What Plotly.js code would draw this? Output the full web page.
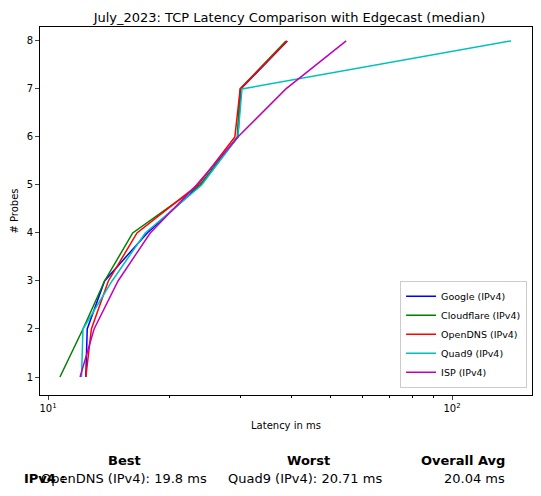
<!DOCTYPE html>
<html>
<head>
<meta charset="utf-8">
<script src="https://cdn.plot.ly/plotly-3.0.1.min.js"></script>
<style>body{margin:0;background:#fff}</style>
</head>
<body>
<div id="grafico" style="width:541px;height:496px"></div>
<script>
"use strict";

const probes = [1, 2, 3, 4, 5, 6, 7, 8];
const google = [12.4, 12.5, 13.8, 17.6, 23.8, 29.5, 30.0, 39.1];
const cloudflare = [10.7, 12.2, 13.8, 16.2, 23.8, 29.4, 29.9, 38.8];
const opendns = [12.4, 12.8, 14.1, 16.6, 23.5, 29.0, 29.9, 39.1];
const quad9 = [12.1, 12.2, 14.4, 17.4, 24.0, 29.5, 30.2, 140];
const isp = [12.0, 13.0, 14.9, 17.9, 23.3, 29.5, 38.8, 54.7];

const series = [
    { name: 'Google (IPv4)', x: google, color: '#0000ff' },
    { name: 'Cloudflare (IPv4)', x: cloudflare, color: '#008000' },
    { name: 'OpenDNS (IPv4)', x: opendns, color: '#ff0000' },
    { name: 'Quad9 (IPv4)', x: quad9, color: '#00bfbf' },
    { name: 'ISP (IPv4)', x: isp, color: '#bf00bf' }
];

const traces = series.map(s => ({
    x: s.x, y: probes, type: 'scatter', mode: 'lines',
    name: s.name, line: { color: s.color, width: 1.5 }
}));

// tabla inferior (posiciones en pixeles convertidas a papel)
const font = { family: 'DejaVu Sans', size: 13, color: '#000' };
const px = p => (p - 40) / 492;
const py = p => (395 - p) / 368;
const nota = (x, y, text) => ({ xref: 'paper', yref: 'paper', x: px(x), y: py(y), text, showarrow: false, font, xanchor: 'center', yanchor: 'middle' });
const annotations = [
    nota(124, 460, '<b>Best</b>'),
    nota(308, 460, '<b>Worst</b>'),
    nota(463, 460, '<b>Overall Avg</b>'),
    nota(45, 479, '<b>IPv4 :</b>'),
    nota(124, 479, 'OpenDNS (IPv4): 19.8 ms'),
    nota(305, 479, 'Quad9 (IPv4): 20.71 ms'),
    nota(474, 479, '20.04 ms')
];

const layout = {
    width: 541, height: 496,
    margin: { l: 40, r: 9, t: 27, b: 101 },
    paper_bgcolor: '#fff', plot_bgcolor: '#fff',
    font: { family: 'DejaVu Sans', size: 10, color: '#000' },
    title: { text: 'July_2023: TCP Latency Comparison with Edgecast (median)', font: { size: 13 }, x: 0.535, y: 0.975, xanchor: 'center' },
    xaxis: {
        type: 'log', range: [0.980, 2.198],
        tickvals: [10, 100], ticktext: ['10<sup>1</sup>', '10<sup>2</sup>'],
        ticks: 'outside', ticklen: 4, showgrid: false, zeroline: false,
        showline: true, mirror: true, linecolor: '#000',
        minor: { tickvals: [20, 30, 40, 50, 60, 70, 80, 90], ticks: 'outside', ticklen: 2, tickcolor: '#000' },
        title: { text: 'Latency in ms', font: { size: 10 }, standoff: 8 }
    },
    yaxis: {
        range: [0.625, 8.29], dtick: 1, ticks: 'outside', ticklen: 4,
        showgrid: false, zeroline: false, showline: true, mirror: true, linecolor: '#000',
        title: { text: '# Probes', font: { size: 10 }, standoff: 6 }
    },
    legend: {
        x: 0.99, y: 0.02, xanchor: 'right', yanchor: 'bottom',
        bordercolor: '#ccc', borderwidth: 1, bgcolor: '#fff', font: { size: 9.5 },
        tracegroupgap: 0, itemwidth: 30
    },
    showlegend: true,
    annotations
};

Plotly.newPlot('grafico', traces, layout, { displayModeBar: false, staticPlot: true });
</script>
</body>
</html>
